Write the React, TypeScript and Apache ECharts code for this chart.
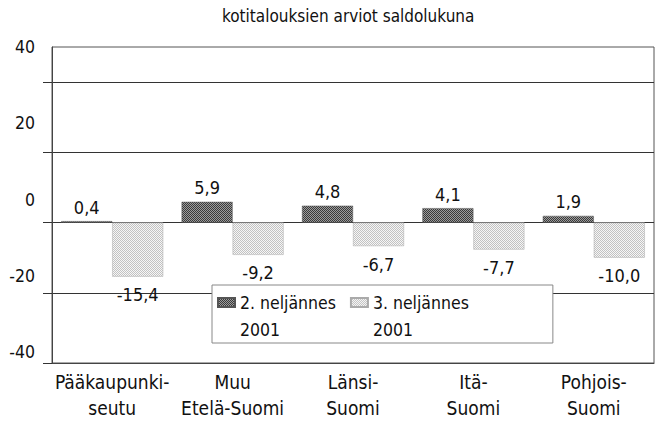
import React, { useEffect, useRef } from "react";
import * as echarts from "echarts";

const title = "kotitalouksien arviot saldolukuna";
const categories = [
  "Pääkaupunki-\nseutu",
  "Muu\nEtelä-Suomi",
  "Länsi-\nSuomi",
  "Itä-\nSuomi",
  "Pohjois-\nSuomi",
];
const seriesNames = ["2. neljännes\n2001", "3. neljännes\n2001"];
const q2Values = [0.4, 5.9, 4.8, 4.1, 1.9];
const q3Values = [-15.4, -9.2, -6.7, -7.7, -10.0];
const tickValues = [-40, -20, 0, 20, 40];

const FONT = "'Liberation Sans Narrow', 'DejaVu Sans Condensed', 'Arial Narrow', sans-serif";
const TEXT = "#111";

function makePattern(dot: string, bg: string): HTMLCanvasElement {
  const c = document.createElement("canvas");
  c.width = 2;
  c.height = 2;
  const ctx = c.getContext("2d")!;
  ctx.fillStyle = bg;
  ctx.fillRect(0, 0, 2, 2);
  ctx.fillStyle = dot;
  ctx.fillRect(0, 0, 1, 1);
  ctx.fillRect(1, 1, 1, 1);
  return c;
}

const fmt = (v: number) => v.toFixed(1).replace(".", ",");

function labelFor(v: number) {
  return v < 0
    ? { value: v, label: { position: "bottom", distance: 9 } }
    : { value: v, label: { position: "top", distance: 5 } };
}

export default function App() {
  const ref = useRef<HTMLDivElement>(null);
  useEffect(() => {
    if (!ref.current) return;
    const chart = echarts.init(ref.current, null, { renderer: "svg" });
    const darkPat = makePattern("#3a3a3a", "#9c9c9c");
    const lightPat = makePattern("#c2c2c2", "#f6f6f6");
    const labelStyle = {
      show: true,
      fontFamily: FONT,
      fontSize: 18,
      color: TEXT,
      formatter: (p: any) => fmt(p.value),
    };
    chart.setOption({
      animation: false,
      backgroundColor: "#fff",
      title: {
        text: title,
        left: 217,
        top: 2,
        textStyle: { fontFamily: FONT, fontSize: 17, fontWeight: "normal", color: TEXT },
      },
      legend: {
        left: 212,
        top: 285,
        orient: "horizontal",
        itemWidth: 17,
        itemHeight: 36,
        itemGap: 14,
        icon: "path://M0,0H17V9H0Z M0,36",
        padding: [4, 84, 0, 5],
        backgroundColor: "#fff",
        borderColor: "#888",
        borderWidth: 1,
        textStyle: { fontFamily: FONT, fontSize: 17.5, lineHeight: 27, color: TEXT },
        data: seriesNames,
      },
      grid: [
        {
          left: 52,
          top: 47,
          right: 4,
          bottom: 59,
          show: true,
          borderColor: "#555",
          borderWidth: 1,
          backgroundColor: "transparent",
        },
        { left: 43, top: 47, width: 499, bottom: 70 },
      ],
      xAxis: [
        {
          type: "category",
          gridIndex: 0,
          data: categories,
          axisLine: { show: true, onZero: false, lineStyle: { color: "#444" } },
          axisTick: { show: false },
          splitLine: { show: false },
          axisLabel: {
            interval: 0,
            margin: 6,
            fontFamily: FONT,
            fontSize: 19,
            lineHeight: 26,
            color: TEXT,
          },
        },
        {
          type: "category",
          gridIndex: 1,
          data: categories,
          show: false,
        },
      ],
      yAxis: [
        {
          type: "value",
          gridIndex: 0,
          min: -40,
          max: 50,
          interval: 20,
          axisLine: { show: true, lineStyle: { color: "#444" } },
          axisTick: {
            show: true,
            inside: false,
            length: 9,
            customValues: tickValues,
            lineStyle: { color: "#333" },
          },
          axisLabel: { show: false },
          splitLine: { show: true, lineStyle: { color: "#333", width: 1 } },
        },
        {
          type: "value",
          gridIndex: 1,
          min: -40,
          max: 40,
          interval: 20,
          axisLine: { show: false },
          axisTick: { show: false },
          splitLine: { show: false },
          axisLabel: {
            margin: 8,
            fontFamily: FONT,
            fontSize: 17.5,
            color: TEXT,
          },
        },
      ],
      series: [
        {
          name: seriesNames[0],
          type: "bar",
          xAxisIndex: 0,
          yAxisIndex: 0,
          barWidth: 51,
          barGap: "0%",
          data: q2Values.map(labelFor),
          itemStyle: {
            color: { image: darkPat, repeat: "repeat" },
            borderColor: "#555",
            borderWidth: 0.5,
          },
          label: labelStyle,
        },
        {
          name: seriesNames[1],
          type: "bar",
          xAxisIndex: 0,
          yAxisIndex: 0,
          barWidth: 51,
          barGap: "0%",
          data: q3Values.map(labelFor),
          itemStyle: {
            color: { image: lightPat, repeat: "repeat" },
            borderColor: "#aaa",
            borderWidth: 0.5,
          },
          label: labelStyle,
        },
      ],
    });
    return () => chart.dispose();
  }, []);
  return (
    <div
      ref={ref}
      style={{ position: "fixed", left: 0, top: 0, width: 658, height: 422 }}
    />
  );
}
